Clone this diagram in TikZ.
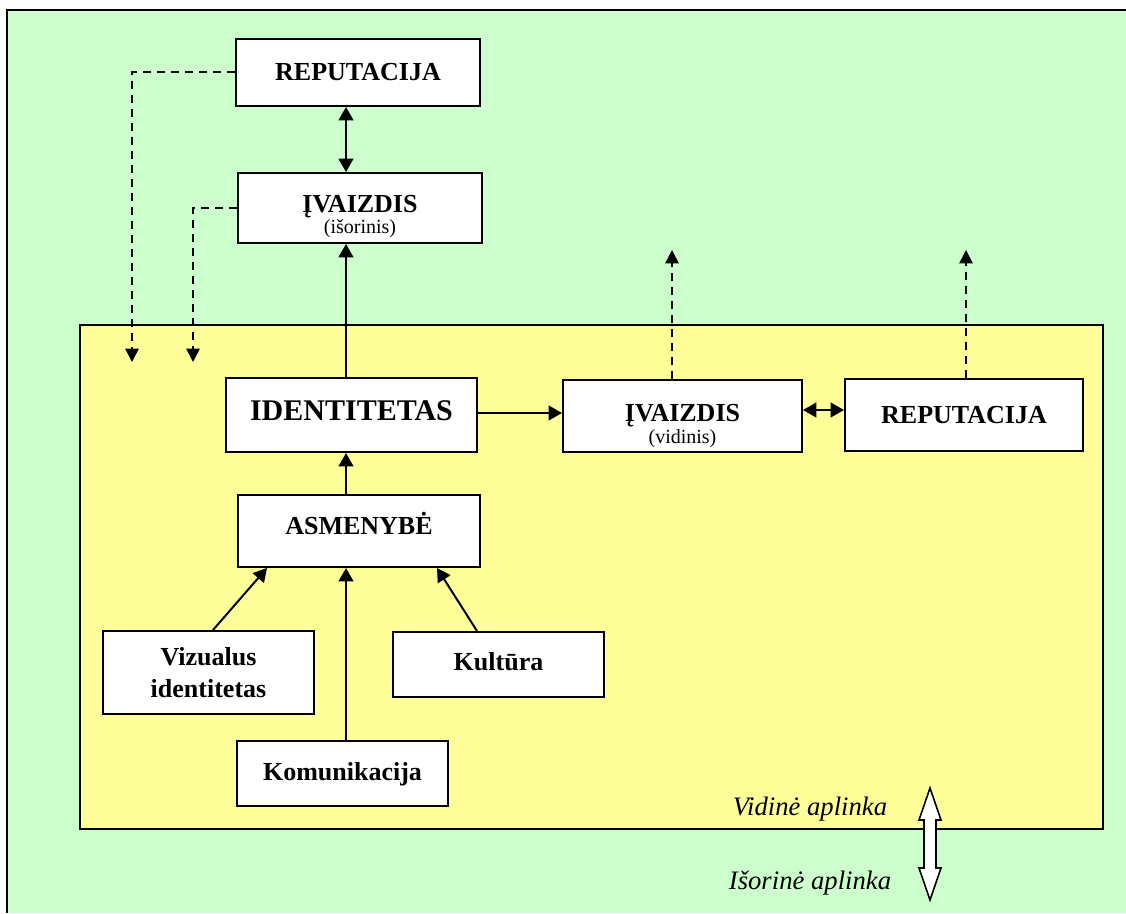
\documentclass[tikz,border=0pt]{standalone}
\usepackage{fontspec}
\setmainfont{Liberation Serif}
\usetikzlibrary{arrows.meta}
\definecolor{isore}{HTML}{CCFFCC}
\definecolor{vidus}{HTML}{FFFF99}
\tikzset{
  box/.style={draw, fill=white, line width=1.5pt, align=center, inner sep=0pt, font=\bfseries\fontsize{19.5}{22}\selectfont},
  sz/.style 2 args={minimum width=#1*0.75pt, minimum height=#2*0.75pt},
  arr/.style={line width=1.5pt, -{Triangle[length=10pt,width=11pt]}},
  dbl/.style={line width=1.5pt, {Triangle[length=10pt,width=11pt]}-{Triangle[length=10pt,width=11pt]}},
  dsh/.style={line width=1.2pt, dash pattern=on 6pt off 4.5pt, -{Triangle[length=10pt,width=10pt]}},
  env/.style={font=\itshape\fontsize{20}{22}\selectfont}
}
\newcommand{\smalltag}[1]{{\mdseries\fontsize{15}{16}\selectfont (#1)}}
\begin{document}
\begin{tikzpicture}[x=0.75pt, y=-0.75pt]
        \useasboundingbox (0,0) rectangle (1126,913);
        \fill[white] (0,0) rectangle (1126,913);
        \fill[isore] (7,10) rectangle (1126,913);
        \draw[line width=1.8pt] (7,913) -- (7,10) -- (1126,10);
        \draw[line width=1.5pt, fill=vidus] (80,325) rectangle (1103,829);
        \node[box, sz={244}{67}] (rep1) at (358,72.5) {REPUTACIJA};
        \node[box, sz={244}{70}] (img1) at (360,208) {\rule{0pt}{26pt}ĮVAIZDIS\\[-6pt]\smalltag{išorinis}};
        \node[box, sz={251}{74}, text depth=6pt, font=\bfseries\fontsize{22.5}{25}\selectfont] (ident) at (351.5,415) {IDENTITETAS};
        \node[box, sz={242}{72}, text depth=12pt] (asm) at (359,531) {ASMENYBĖ};
        \node[box, sz={211}{83}] (viz) at (208.5,672.5) {Vizualus\\[2pt]identitetas};
        \node[box, sz={211}{65}, text depth=3pt] (kom) at (342.5,773.5) {Komunikacija};
        \node[box, sz={211}{65}, text depth=5pt] (kult) at (498.5,664.5) {Kultūra};
        \node[box, sz={239}{72}] (img2) at (682.5,416) {\rule{0pt}{28pt}ĮVAIZDIS\\[-6pt]\smalltag{vidinis}};
        \node[box, sz={238}{72}] (rep2) at (964,415) {REPUTACIJA};
        \coordinate (col) at (346,0);
        \coordinate (down1) at (132,362);
        \coordinate (down2) at (193,362);
        \coordinate (up1) at (672,250);
        \coordinate (up2) at (966,250);
        \draw[dbl] (rep1.south -| col) -- (img1.north -| col);
        \draw[arr] (ident.north -| col) -- (img1.south -| col);
        \draw[arr] (asm.north -| col) -- (ident.south -| col);
        \draw[arr] (kom.north -| col) -- (asm.south -| col);
        \draw[arr] (viz.north -| 213,0) -- (asm.south -| 267,0);
        \draw[arr] (kult.north -| 477,0) -- (asm.south -| 437,0);
        \draw[arr] (ident.east |- 0,413) -- (img2.west |- 0,413);
        \draw[dbl] (img2.east |- 0,410) -- (rep2.west |- 0,410);
        \draw[dsh] (rep1.west |- 0,72) -| (down1);
        \draw[dsh] (img1.west |- 0,208) -| (down2);
        \draw[dsh] (img2.north -| up1) -- (up1);
        \draw[dsh] (rep2.north -| up2) -- (up2);
        \node[env] (vid) at (810,809) {Vidinė aplinka};
        \node[env] (isr) at (810,883) {Išorinė aplinka};
        \draw[line width=1.2pt, fill=white] (930,788) -- (941,820) -- (936,820) -- (936,868) -- (941,868)
            -- (930,900) -- (919,868) -- (924,868) -- (924,820) -- (919,820) -- cycle;
    \end{tikzpicture}
\end{document}
